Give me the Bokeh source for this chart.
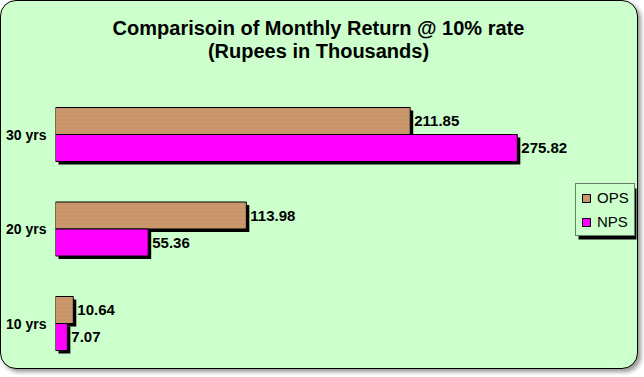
from bokeh.plotting import figure
from bokeh.models import (ColumnDataSource, Range1d, Label, Legend, LegendItem,
                          FixedTicker, BoxAnnotation)
from bokeh.transform import dodge
from bokeh.core.properties import value
from bokeh.embed import file_html
from bokeh.resources import INLINE

categories = ["10 yrs", "20 yrs", "30 yrs"]
ops = [10.64, 113.98, 211.85]
nps = [7.07, 55.36, 275.82]
ops_labels = ["10.64", "113.98", "211.85"]
nps_labels = ["7.07", "55.36", "275.82"]
title_lines = ["Comparisoin of Monthly Return @ 10% rate", "(Rupees in Thousands)"]

pos = list(range(1, len(categories) + 1))

px_per_unit = 1.675
px_per_cat = 94.5
shadow_dx = 3 / px_per_unit
shadow_dy = 3 / px_per_cat
bar_h = 27 / px_per_cat
off = bar_h / 2

src = ColumnDataSource(dict(
    y=pos, ops=ops, nps=nps,
    ops_s=[v + shadow_dx for v in ops], nps_s=[v + shadow_dx for v in nps],
    zero_s=[shadow_dx] * 3,
    ops_l=ops_labels, nps_l=nps_labels,
))

FONT = "Liberation Sans"
H = 369
y0 = 1 - 47 / px_per_cat

p = figure(width=638, height=H, y_range=Range1d(y0, y0 + H / px_per_cat),
           x_range=Range1d(0, 347), output_backend="svg", toolbar_location=None,
           x_axis_location=None, min_border=0, min_border_left=54, min_border_right=3)
p.border_fill_color = None
p.background_fill_color = None
p.outline_line_color = None
p.grid.visible = False
p.styles = {"background-color": "#CCFFCC", "border": "1px solid black",
            "border-radius": "16px", "box-shadow": "3px 3px 4px #999999",
            "margin": "0px"}

ax = p.yaxis[0]
ax.ticker = FixedTicker(ticks=pos)
ax.major_label_overrides = {k: c for k, c in zip(pos, categories)}
ax.axis_line_color = None
ax.major_tick_line_color = None
ax.minor_tick_line_color = None
ax.major_tick_out = 0
ax.major_tick_in = 0
ax.minor_tick_out = 0
ax.minor_tick_in = 0
ax.major_label_text_font = FONT
ax.major_label_text_font_style = "bold"
ax.major_label_text_font_size = "14px"
ax.major_label_text_color = "black"
ax.major_label_standoff = 9

# shadows
p.hbar(y=dodge("y", off - shadow_dy), left="zero_s", right="ops_s",
       height=bar_h, source=src, fill_color="black", line_color=None)
p.hbar(y=dodge("y", -off - shadow_dy), left="zero_s", right="nps_s",
       height=bar_h, source=src, fill_color="black", line_color=None)

r_ops = p.hbar(y=dodge("y", off), left=0, right="ops", height=bar_h,
               source=src, fill_color="#CA986C", line_color="black", line_width=1,
               hatch_pattern="-", hatch_color="#A9764C", hatch_alpha=0.18,
               hatch_scale=4, hatch_weight=1)
r_nps = p.hbar(y=dodge("y", -off), left=0, right="nps", height=bar_h,
               source=src, fill_color="#FF00FF", line_color="black", line_width=1)

p.text(x="ops", y=dodge("y", off), text="ops_l", source=src,
       x_offset=4, text_baseline="middle", text_align="left", text_font=value(FONT),
       text_font_style="bold", text_font_size="15px", text_color="black")
p.text(x="nps", y=dodge("y", -off), text="nps_l", source=src,
       x_offset=4, text_baseline="middle", text_align="left", text_font=value(FONT),
       text_font_style="bold", text_font_size="15px", text_color="black")

# legend shadow + legend
lx, ly, lw, lh = 520, 134, 59, 51
p.add_layout(BoxAnnotation(left=lx + 3, right=lx + lw + 3, bottom=ly - 3, top=ly + lh - 3,
                           left_units="screen", right_units="screen",
                           bottom_units="screen", top_units="screen",
                           fill_color="black", fill_alpha=1, line_color=None))
legend = Legend(items=[LegendItem(label="OPS", renderers=[r_ops]),
                       LegendItem(label="NPS", renderers=[r_nps])],
                location=(lx, ly), orientation="vertical",
                background_fill_color="#CCFFCC", background_fill_alpha=1,
                border_line_color="black", border_line_width=1,
                label_text_font=FONT, label_text_font_size="15px",
                label_text_color="black",
                glyph_width=10, glyph_height=10, label_standoff=6,
                padding=5, spacing=7, margin=0, label_height=16)
p.add_layout(legend, "center")

for txt, ys in zip(title_lines, [343, 320]):
    p.add_layout(Label(x=263, y=ys, x_units="screen", y_units="screen", text=txt,
                       text_align="center", text_baseline="middle", text_font=FONT,
                       text_font_size="20px", text_font_style="bold",
                       text_color="black"))

open("out.html", "w").write(file_html(p, INLINE))
